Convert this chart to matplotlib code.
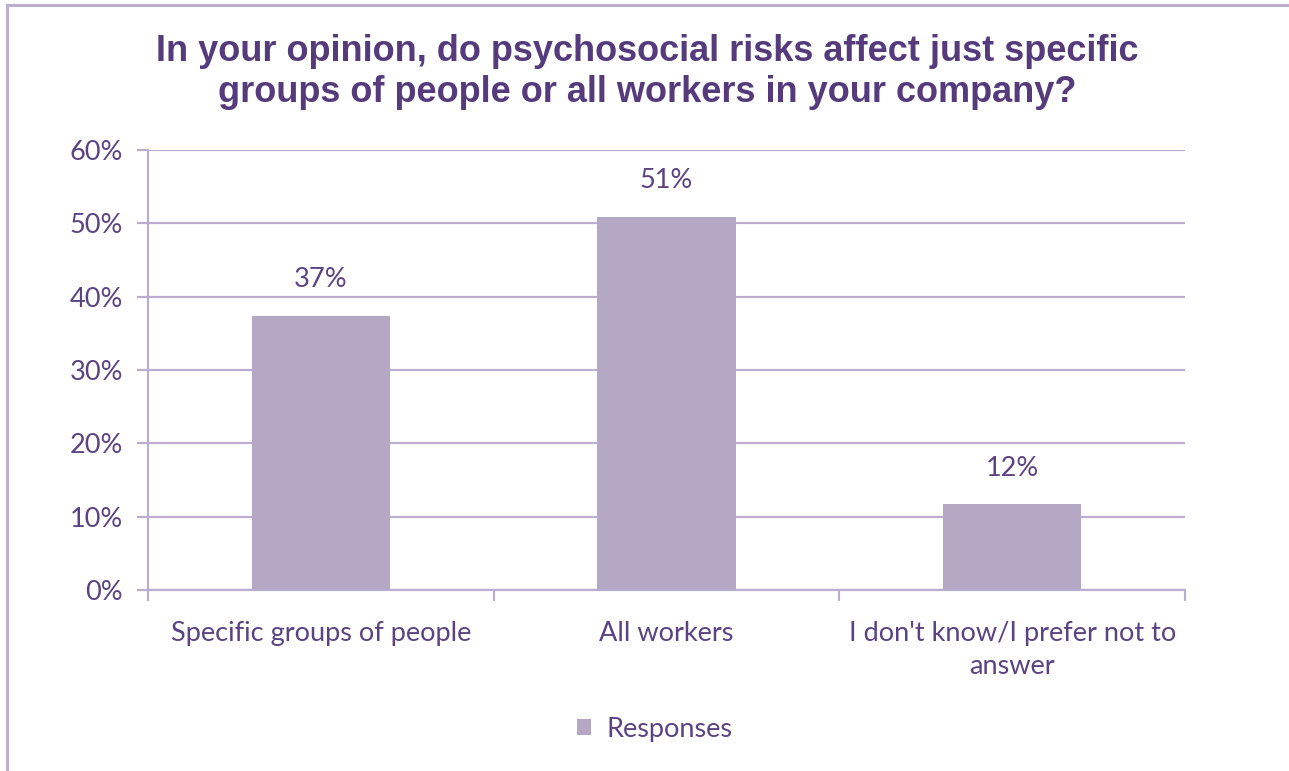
import matplotlib.pyplot as plt
from matplotlib.lines import Line2D
from matplotlib.patches import Patch

categories = ["Specific groups of people", "All workers", "I don't know/I prefer not to\nanswer"]
responses = [0.374, 0.509, 0.117]
y_ticks = [0.0, 0.1, 0.2, 0.3, 0.4, 0.5, 0.6]
series_name = "Responses"
title = ("In your opinion, do psychosocial risks affect just specific\n"
         "groups of people or all workers in your company?")

BAR_COLOR = "#b5a8c5"
GRID_COLOR = "#bcaed0"
TEXT_COLOR = "#5b4383"
TITLE_COLOR = "#553b7c"
LABEL_FONT = ["Lato", "DejaVu Sans"]
LABEL_SIZE = 19.5

fig = plt.figure(figsize=(12.89, 7.71), dpi=100)
fig.patch.set_facecolor("white")

# frame around the chart (open to the right and bottom)
fig.add_artist(Line2D([7 / 1289, 7 / 1289], [0, 1 - 5 / 771], transform=fig.transFigure,
                      color=GRID_COLOR, lw=2.2))
fig.add_artist(Line2D([7 / 1289, 1], [1 - 5 / 771, 1 - 5 / 771], transform=fig.transFigure,
                      color=GRID_COLOR, lw=2.2))

ax = fig.add_axes([148 / 1289, 1 - 590 / 771, (1185 - 148) / 1289, 440 / 771])

x = range(len(categories))
bars = ax.bar(x, responses, width=0.4, color=BAR_COLOR, zorder=3, label=series_name)

ax.set_xlim(-0.5, len(categories) - 0.5)
ax.set_ylim(0, 0.6)
ax.set_yticks(y_ticks)
ax.set_yticklabels([f"{v * 100:.0f}%" for v in y_ticks], family=LABEL_FONT)
ax.grid(axis="y", color=GRID_COLOR, lw=1.6, zorder=0)

for side in ("top", "right"):
    ax.spines[side].set_visible(False)
for side in ("left", "bottom"):
    ax.spines[side].set_color(GRID_COLOR)
    ax.spines[side].set_linewidth(1.6)

ax.tick_params(axis="y", length=8, width=1.6, color=GRID_COLOR, labelcolor=TEXT_COLOR,
               labelsize=LABEL_SIZE, pad=10)

# category labels sit between boundary ticks on the x axis
ax.set_xticks(list(x))
ax.set_xticklabels(categories, family=LABEL_FONT, fontsize=LABEL_SIZE, color=TEXT_COLOR,
                   linespacing=1.4)
ax.tick_params(axis="x", which="major", length=0, pad=22)
ax.set_xticks([i - 0.5 for i in range(len(categories) + 1)], minor=True)
ax.tick_params(axis="x", which="minor", length=8, width=1.6, color=GRID_COLOR)

for bar, val in zip(bars, responses):
    ax.annotate(f"{val * 100:.0f}%", (bar.get_x() + bar.get_width() / 2, val),
                xytext=(0, 17), textcoords="offset points", ha="center", va="bottom",
                fontsize=LABEL_SIZE, color=TEXT_COLOR, family=LABEL_FONT)

fig.text(647 / 1289, 1 - 72 / 771, title, ha="center", va="center", fontsize=26,
         fontweight="bold", color=TITLE_COLOR, family=["Liberation Sans", "DejaVu Sans"],
         linespacing=1.25)

fig.legend(handles=[Patch(facecolor=BAR_COLOR, label=series_name)],
           loc="center", bbox_to_anchor=(655 / 1289, 1 - 729 / 771), frameon=False,
           prop={"family": LABEL_FONT, "size": LABEL_SIZE}, labelcolor=TEXT_COLOR,
           handlelength=0.5, handleheight=0.5, handletextpad=0.6)

fig.savefig("out.png", dpi=100, facecolor="white")
